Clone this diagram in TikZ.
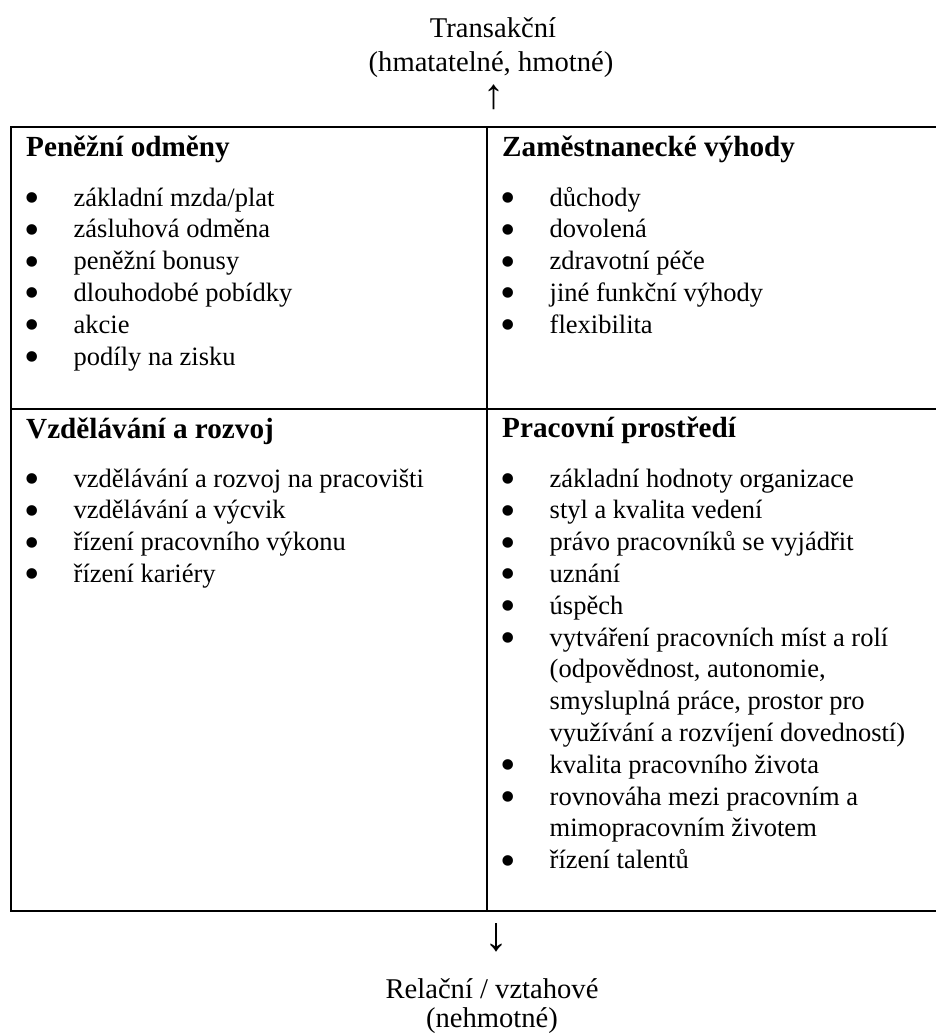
\documentclass[tikz,border=0pt]{standalone}
\usepackage{fontspec}
\setmainfont{Liberation Serif}
\newcommand\itemfont{\fontsize{26.5}{31.8}\selectfont}
\tikzset{
  grid/.style={line width=2pt, line cap=rect},
  lbl/.style={inner sep=0pt, anchor=base, font=\fontsize{28.6}{33}\selectfont},
  arr/.style={inner sep=0pt, anchor=base},
  head/.style={inner sep=0pt, anchor=base west, font=\fontsize{29.2}{32}\selectfont\bfseries},
  lst/.style={inner sep=0pt, anchor=base west},
}
\newcommand\itm[1]{\par\hangindent=47.5pt\hangafter=1\noindent\hbox to 47.5pt{\hspace{-2pt}\smash{\fontsize{44}{31.8}\selectfont\raisebox{-6.5pt}{•}}\hfil}#1}
\newenvironment{cell}{\begin{minipage}[t]{420pt}\itemfont\raggedright}{\end{minipage}}
\begin{document}
\begin{tikzpicture}[x=1pt,y=-1pt]
\useasboundingbox (0,0) rectangle (936,1034);
% grid
\coordinate (tl) at (11,127);
\coordinate (tr) at (937,127);
\coordinate (ml) at (11,409);
\coordinate (mr) at (937,409);
\coordinate (bl) at (11,911);
\coordinate (br) at (937,911);
\coordinate (mt) at (487,127);
\coordinate (mb) at (487,911);
\draw[grid] (tr) -- (tl) -- (bl) -- (br);
\draw[grid] (ml) -- (mr);
\draw[grid] (mt) -- (mb);
% top labels
\node[lbl] (t1) at (493,37) {Transakční};
\node[lbl] (t2) at (491,71) {(hmatatelné, hmotné)};
\node[arr, font=\fontsize{42}{42}\selectfont] (t3) at (494,108) {↑};
% cells
\node[head] (h1) at (26,156) {Peněžní odměny};
\node[lst] (l1) at (26,206) {\begin{cell}\itm{základní mzda/plat}\itm{zásluhová odměna}\itm{peněžní bonusy}\itm{dlouhodobé pobídky}\itm{akcie}\itm{podíly na zisku}\end{cell}};
\node[head] (h2) at (502,156) {Zaměstnanecké výhody};
\node[lst] (l2) at (502,206) {\begin{cell}\itm{důchody}\itm{dovolená}\itm{zdravotní péče}\itm{jiné funkční výhody}\itm{flexibilita}\end{cell}};
\node[head] (h3) at (26,438) {Vzdělávání a rozvoj};
\node[lst] (l3) at (26,487) {\begin{cell}\itm{vzdělávání a rozvoj na pracovišti}\itm{vzdělávání a výcvik}\itm{řízení pracovního výkonu}\itm{řízení kariéry}\end{cell}};
\node[head] (h4) at (502,437) {Pracovní prostředí};
\node[lst] (l4) at (502,487) {\begin{cell}\itm{základní hodnoty organizace}\itm{styl a kvalita vedení}\itm{právo pracovníků se vyjádřit}\itm{uznání}\itm{úspěch}\itm{vytváření pracovních míst a rolí\newline(odpovědnost, autonomie,\newline smysluplná práce, prostor pro\newline využívání a rozvíjení dovedností)}\itm{kvalita pracovního života}\itm{rovnováha mezi pracovním a\newline mimopracovním životem}\itm{řízení talentů}\end{cell}};
% bottom labels
\node[arr, font=\fontsize{48}{48}\selectfont] (b1) at (496,950) {↓};
\node[lbl] (b2) at (492,998) {Relační / vztahové};
\node[lbl] (b3) at (492,1027) {(nehmotné)};
\end{tikzpicture}
\end{document}
